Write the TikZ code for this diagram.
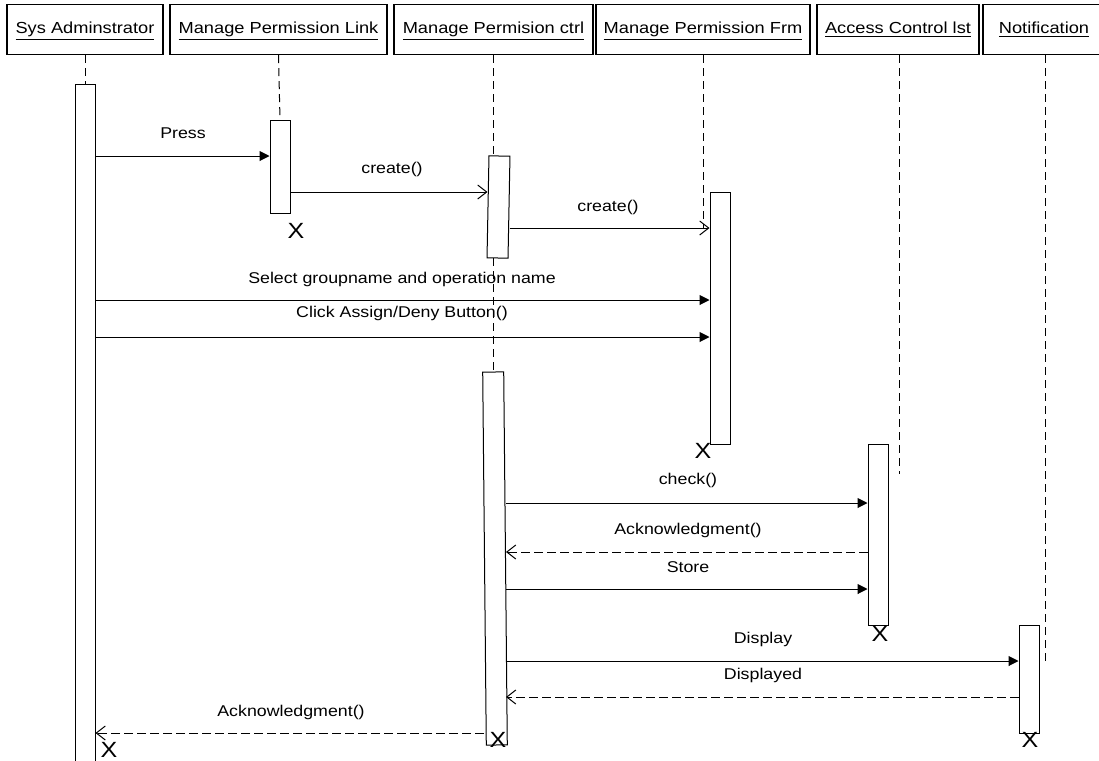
\documentclass[tikz,border=0pt]{standalone}
\usepackage{fontspec}
\setmainfont{Liberation Sans}[FakeStretch=1.14]
\usetikzlibrary{arrows.meta}

\tikzset{
  objbox/.style={draw, line width=0.6pt, minimum height=25pt, inner sep=0pt, text height=6pt, text depth=2pt, font=\fontsize{8}{9}\selectfont},
  actbox/.style={draw, fill=white, line width=0.5pt, minimum width=10pt, inner sep=0pt},
  lifeline/.style={line width=0.5pt, dash pattern=on 4pt off 2.5pt},
  callmsg/.style={line width=0.5pt, -{Triangle[length=5pt,width=5pt]}},
  createmsg/.style={line width=0.5pt, -{Straight Barb[length=4.5pt,width=7pt]}},
  replymsg/.style={line width=0.5pt, dash pattern=on 4.5pt off 2pt, -{Straight Barb[length=4.5pt,width=7pt]}},
  msglabel/.style={inner sep=0pt, font=\fontsize{7.8}{9}\selectfont},
  killmark/.style={inner sep=0pt, font=\fontsize{11}{12}\selectfont}
}

\begin{document}
\begin{tikzpicture}[x=0.5pt, y=-0.5pt]
  \useasboundingbox (0,0) rectangle (1099,761);

  % Object boxes
  \node[objbox, minimum width=78pt] (sys) at (85,29.5) {\underline{Sys Adminstrator}};
  \node[objbox, minimum width=108.5pt] (mpl) at (278.5,29.5) {\underline{Manage Permission Link}};
  \node[objbox, minimum width=99.5pt] (ctrl) at (493.5,29.5) {\underline{Manage Permision ctrl}};
  \node[objbox, minimum width=107pt] (frm) at (703,29.5) {\underline{Manage Permission Frm}};
  \node[objbox, minimum width=81pt] (acl) at (898,29.5) {\underline{Access Control lst}};
  \node[objbox, minimum width=61pt] (notif) at (1044,29.5) {\underline{Notification}};

  % Activation boxes
  \node[actbox, minimum height=343pt] (sysact) at (85,427) {};
  \node[actbox, minimum height=46.5pt] (mplact) at (280,166.5) {};
  \node[actbox, minimum width=10.5pt, minimum height=51pt, rotate=-1.1] (ctrlA) at (498.5,207) {};
  \node[actbox, minimum height=126pt] (frmact) at (720,318) {};
  \node[actbox, minimum width=10.5pt, minimum height=186.5pt, rotate=0.55] (ctrlB) at (495,558.5) {};
  \node[actbox, minimum height=90.5pt] (aclact) at (878,534.5) {};
  \node[actbox, minimum height=54pt] (notact) at (1029,679) {};

  % Lifelines
  \coordinate (frmlife) at (703,228);
  \coordinate (acllife) at (899,474);
  \coordinate (notlife) at (1045,662);
  \draw[lifeline] (sys.south) -- (sysact.north);
  \draw[lifeline] (mpl.south) -- (mplact.north);
  \draw[lifeline] (ctrl.south) -- (ctrl.south |- ctrlA.north);
  \draw[lifeline] (ctrl.south |- ctrlA.south) -- (ctrl.south |- ctrlB.north);
  \draw[lifeline] (frm.south) -- (frmlife);
  \draw[lifeline] (acllife |- acl.south) -- (acllife);
  \draw[lifeline] (notlife |- notif.south) -- (notlife);

  % Messages
  \draw[callmsg] (sysact.east |- 0,156) -- (mplact.west |- 0,156);
  \node[msglabel] (lpress) at (183,133) {Press};
  \draw[createmsg] (mplact.east |- 0,192) -- (ctrlA.west |- 0,192);
  \node[msglabel] (lcreateA) at (392,169) {create()};
  \draw[createmsg] (ctrlA.east |- 0,228) -- (frmact.west |- 0,228);
  \node[msglabel] (lcreateB) at (608,207) {create()};
  \draw[callmsg] (sysact.east |- 0,300) -- (frmact.west |- 0,300);
  \node[msglabel] (lselect) at (402,279) {Select groupname and operation name};
  \draw[callmsg] (sysact.east |- 0,337) -- (frmact.west |- 0,337);
  \node[msglabel] (lclick) at (402,313) {Click Assign/Deny Button()};
  \draw[callmsg] (ctrlB.east |- 0,503) -- (aclact.west |- 0,503);
  \node[msglabel] (lcheck) at (688,480) {check()};
  \draw[replymsg] (aclact.west |- 0,552) -- (ctrlB.east |- 0,552);
  \node[msglabel] (lackA) at (688,530) {Acknowledgment()};
  \draw[callmsg] (ctrlB.east |- 0,589) -- (aclact.west |- 0,589);
  \node[msglabel] (lstore) at (688,567) {Store};
  \draw[callmsg] (ctrlB.east |- 0,661) -- (notact.west |- 0,661);
  \node[msglabel] (ldisplay) at (763,639) {Display};
  \draw[replymsg] (notact.west |- 0,697) -- (ctrlB.east |- 0,697);
  \node[msglabel] (ldisplayed) at (763,675) {Displayed};
  \draw[replymsg] (ctrlB.west |- 0,733) -- (sysact.east |- 0,733);
  \node[msglabel] (lackB) at (291,712) {Acknowledgment()};

  % Destruction marks
  \node[killmark] (xmpl) at (296,231) {X};
  \node[killmark] (xfrm) at (703,451) {X};
  \node[killmark] (xacl) at (880,634) {X};
  \node[killmark] (xctrl) at (498,740) {X};
  \node[killmark] (xnot) at (1030,740) {X};
  \node[killmark] (xsys) at (109,750) {X};
\end{tikzpicture}
\end{document}
